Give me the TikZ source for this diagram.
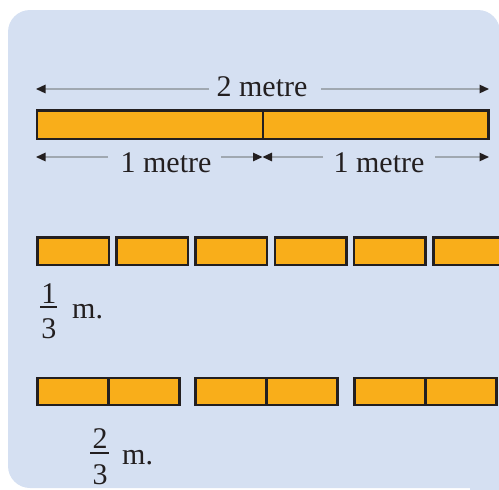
\documentclass[tikz,border=0pt]{standalone}
\usepackage{fontspec}
\setmainfont{Liberation Serif}
\usetikzlibrary{arrows.meta}
\definecolor{bgblue}{HTML}{D5E0F2}
\definecolor{barorange}{HTML}{F9AE1A}
\definecolor{ink}{HTML}{231F20}
\definecolor{dimgray}{HTML}{A0A8B1}
\begin{document}
\begin{tikzpicture}[x=1pt,y=-1pt,
  seg/.style={draw=ink, line width=2.5pt, fill=barorange, inner sep=0pt},
  topseg/.style={seg, minimum height=28.5pt},
  thirdseg/.style={seg, minimum width=71.5pt, minimum height=27.5pt},
  pairseg/.style={seg, minimum width=71.25pt, minimum height=26.8pt},
  dim/.style={draw=dimgray, line width=1.3pt},
  tipend/.style={-{Triangle[color=ink,length=9.5pt,width=8.5pt]}},
  lbl/.style={font=\fontsize{30}{36}\selectfont, text=ink, inner sep=0pt, anchor=base},
  fracbar/.style={draw=ink, line width=1.8pt}]
\useasboundingbox (0,0) rectangle (499,490);
\clip (0,0) rectangle (499,490);
% background panel
\fill[bgblue, rounded corners=22pt] (8,10) rectangle (500,488);
\fill[bgblue] (470,466) rectangle (500,490);
% top bar (2 metre)
\node[topseg, minimum width=226pt] (barL) at (150,124.5) {};
\node[topseg, minimum width=225.5pt] (barR) at (375.5,124.5) {};
% 2 metre dimension
\node[lbl] (two) at (262,96) {2 metre};
\coordinate (tL) at (36,89);
\coordinate (tLe) at (209,89);
\coordinate (tRs) at (321,89);
\coordinate (tR) at (489,89);
\draw[dim, tipend] (tLe) -- (tL);
\draw[dim, tipend] (tRs) -- (tR);
% 1 metre dimensions
\node[lbl] (oneL) at (166,172) {1 metre};
\node[lbl] (oneR) at (379,172) {1 metre};
\coordinate (bL) at (36,157);
\coordinate (bLe) at (108,157);
\coordinate (bLs) at (221,157);
\coordinate (bM) at (262.5,157);
\coordinate (bRe) at (323,157);
\coordinate (bRs) at (435,157);
\coordinate (bR) at (489,157);
\draw[dim, tipend] (bLe) -- (bL);
\draw[dim, tipend] (bLs) -- (bM);
\draw[dim, tipend] (bRe) -- (bM);
\draw[dim, tipend] (bRs) -- (bR);
% thirds row
\foreach \i in {0,...,5}{
  \node[thirdseg] (t\i) at ({73+79.2*\i},251) {};
}
\node[lbl] (n1) at (49,303) {1};
\coordinate (f1a) at (40,307);
\coordinate (f1b) at (57,307);
\draw[fracbar] (f1a) -- (f1b);
\node[lbl] (d1) at (49,338) {3};
\node[lbl, anchor=base west] (m1) at (72,318) {m.};
% two-thirds row
\foreach \xs [count=\k] in {36,194,353}{
  \node[pairseg] (pa\k) at ({\xs+36.9},391.5) {};
  \node[pairseg] (pb\k) at ({\xs+108.1},391.5) {};
}
\node[lbl] (n2) at (100,448) {2};
\coordinate (f2a) at (90,453);
\coordinate (f2b) at (109,453);
\draw[fracbar] (f2a) -- (f2b);
\node[lbl] (d2) at (100,484) {3};
\node[lbl, anchor=base west] (m2) at (122,464) {m.};
\end{tikzpicture}
\end{document}
